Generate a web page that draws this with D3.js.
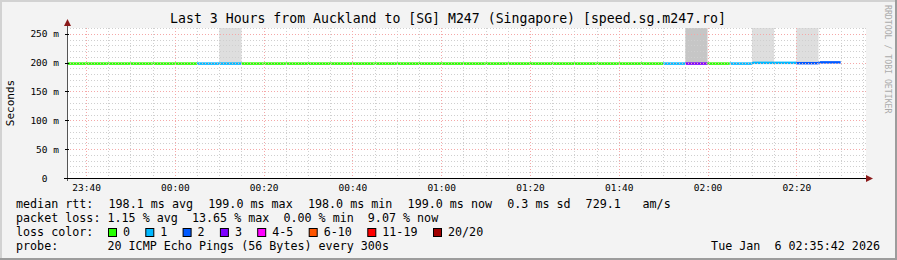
<!DOCTYPE html>
<html>
<head>
<meta charset="utf-8">
<script src="https://d3js.org/d3.v7.min.js"></script>
<style>
  body { margin: 0; background: #fff; }
  text { font-family: "DejaVu Sans Mono", monospace; white-space: pre; }
</style>
</head>
<body>
<div id="chart"></div>
<script>
// 5 minute steps (start time), median rtt (ms) and lost pings out of 20
var stepStarts = ["23:35","23:40","23:45","23:50","23:55",
  "00:00","00:05","00:10","00:15","00:20","00:25","00:30","00:35","00:40","00:45","00:50","00:55",
  "01:00","01:05","01:10","01:15","01:20","01:25","01:30","01:35","01:40","01:45","01:50","01:55",
  "02:00","02:05","02:10","02:15","02:20","02:25"];
var medians = [198.3,198.3,198.3,198.3,198.3,
  198.3,198.3,198.3,198.3,198.3,198.3,198.3,198.3,198.3,198.3,198.3,198.3,
  198.3,198.3,198.3,198.3,198.3,198.3,198.3,198.3,198.3,198.3,198.3,198.3,
  198.3,198.3,199.6,199.6,199.0,200.4];
var losses = [0,0,0,0,0,
  0,1,1,0,0,0,0,0,0,0,0,0,
  0,0,0,0,0,0,0,0,0,0,1,3,
  0,1,1,1,2,2];
// steps with smoke going off the top of the graph, and how dense it is
var smokeSteps = ["00:10","01:55","02:10","02:20"];
var smokeLevel = [1, 2, 1, 1];

var lossLabels = ["0","1","2","3","4-5","6-10","11-19","20/20"];
var lossMax    = [0,1,2,3,5,10,19,20];
var lossColors = ["#26ff00","#00b8ff","#0059ff","#7e00ff","#ff00ff","#ff5500","#ff0000","#a00000"];

var yTicks = [0,50,100,150,200,250];
var yTickLabels = ["0  ","50 m","100 m","150 m","200 m","250 m"];

var title = "Last 3 Hours from Auckland to [SG] M247 (Singapore) [speed.sg.m247.ro]";
var rttLegend = ["median rtt:", "198.1 ms avg", "199.0 ms max", "198.0 ms min", "199.0 ms now", "0.3 ms sd", "729.1", "am/s"];
var lossLegend = "packet loss: 1.15 % avg  13.65 % max  0.00 % min  9.07 % now";
var probeLegend = "probe:       20 ICMP Echo Pings (56 Bytes) every 300s";
var stamp = "Tue Jan  6 02:35:42 2026";

var W = 897, H = 260;
var pL = 67, pR = 866, pT = 28, pB = 178;

function parseT(s) {
  var h = +s.slice(0,2), m = +s.slice(3,5);
  return h >= 12 ? new Date(2026,0,5,h,m) : new Date(2026,0,6,h,m);
}
function lossColor(l) {
  for (var i = 0; i < lossMax.length; i++) if (l <= lossMax[i]) return lossColors[i];
  return lossColors[lossColors.length-1];
}

var t0 = new Date(2026,0,5,23,35,42), t1 = new Date(2026,0,6,2,35,42);
var x = d3.scaleTime().domain([t0, t1]).range([pL, pR]);
var y = d3.scaleLinear().domain([0, 260]).range([pB, pT]);

var svg = d3.select("#chart").append("svg")
  .attr("width", W).attr("height", H);

// frame
svg.append("rect").attr("width", W).attr("height", H).attr("fill", "#f3f3f3");
svg.append("rect").attr("x",0).attr("y",0).attr("width",W).attr("height",2).attr("fill","#d2d2d2");
svg.append("rect").attr("x",0).attr("y",0).attr("width",2).attr("height",H).attr("fill","#d2d2d2");
svg.append("rect").attr("x",0).attr("y",H-2).attr("width",W).attr("height",2).attr("fill","#9c9c9c");
svg.append("rect").attr("x",W-2).attr("y",0).attr("width",2).attr("height",H).attr("fill","#9c9c9c");

// plot area
svg.append("rect").attr("x", pL).attr("y", pT)
  .attr("width", pR-pL).attr("height", pB-pT).attr("fill", "#fff");

svg.append("clipPath").attr("id","plot").append("rect")
  .attr("x", pL).attr("y", pT).attr("width", pR-pL).attr("height", pB-pT);

var data = stepStarts.map(function(s, i) {
  var a = parseT(s);
  return { a: a, b: new Date(+a + 300000), v: medians[i], loss: losses[i] };
});

// smoke
var g = svg.append("g").attr("clip-path", "url(#plot)");
smokeSteps.forEach(function(s, i) {
  var d = data[stepStarts.indexOf(s)];
  g.append("rect")
    .attr("x", x(d.a)).attr("width", x(d.b) - x(d.a))
    .attr("y", y(260)).attr("height", y(d.v) - y(260))
    .attr("fill", smokeLevel[i] > 1 ? "#c6c6c6" : "#dedede");
});

// grid
var minutes = d3.timeMinute.every(5).range(t0, t1);
var grid = svg.append("g");
grid.selectAll(".vminor").data(minutes.filter(function(d){ return d.getMinutes() % 20 != 0; }))
  .enter().append("line")
  .attr("x1", function(d){ return Math.round(x(d)) + 0.5; })
  .attr("x2", function(d){ return Math.round(x(d)) + 0.5; })
  .attr("y1", pT).attr("y2", pB)
  .attr("stroke", "#cfcfcf").attr("stroke-dasharray", "1,2");
grid.selectAll(".hminor").data(d3.range(10, 261, 10).filter(function(v){ return v % 50 != 0; }))
  .enter().append("line")
  .attr("x1", pL).attr("x2", pR)
  .attr("y1", function(d){ return Math.round(y(d)) + 0.5; })
  .attr("y2", function(d){ return Math.round(y(d)) + 0.5; })
  .attr("stroke", "#cfcfcf").attr("stroke-dasharray", "1,2");
grid.selectAll(".vmajor").data(minutes.filter(function(d){ return d.getMinutes() % 20 == 0; }))
  .enter().append("line")
  .attr("x1", function(d){ return Math.round(x(d)) + 0.5; })
  .attr("x2", function(d){ return Math.round(x(d)) + 0.5; })
  .attr("y1", pT).attr("y2", pB)
  .attr("stroke", "#f5a8a8").attr("stroke-dasharray", "1,2");
grid.selectAll(".hmajor").data(yTicks.filter(function(v){ return v > 0; }))
  .enter().append("line")
  .attr("x1", pL).attr("x2", pR)
  .attr("y1", function(d){ return Math.round(y(d)) + 0.5; })
  .attr("y2", function(d){ return Math.round(y(d)) + 0.5; })
  .attr("stroke", "#f5a8a8").attr("stroke-dasharray", "1,2");

// median line, one colored step per 5 minutes
g.selectAll(".med").data(data).enter().append("line")
  .attr("x1", function(d){ return x(d.a); })
  .attr("x2", function(d){ return x(d.b); })
  .attr("y1", function(d){ return y(d.v); })
  .attr("y2", function(d){ return y(d.v); })
  .attr("stroke", function(d){ return lossColor(d.loss); })
  .attr("stroke-width", 2.5);

// axes
svg.append("line").attr("x1", pL - 3).attr("x2", pR + 2)
  .attr("y1", pB + 0.5).attr("y2", pB + 0.5).attr("stroke", "#000");
svg.append("line").attr("x1", pL + 0.5).attr("x2", pL + 0.5)
  .attr("y1", pB + 3).attr("y2", pT - 4).attr("stroke", "#555");
svg.append("path").attr("d", "M" + (pR+7) + "," + (pB+0.5) + "l-7,-3.5v7z").attr("fill", "#8b1a1a");
svg.append("path").attr("d", "M" + (pL+0.5) + "," + (pT-9) + "l-3.5,7h7z").attr("fill", "#8b1a1a");

// y tick labels
svg.selectAll(".ylab").data(yTicks).enter().append("text")
  .attr("x", 59).attr("y", function(d){ return y(d) + 3.5; })
  .attr("text-anchor", "end").attr("font-size", "9.5px").attr("fill", "#000")
  .text(function(d, i){ return yTickLabels[i]; });
svg.selectAll(".ytick").data(yTicks).enter().append("line")
  .attr("x1", pL - 2).attr("x2", pL + 2)
  .attr("y1", function(d){ return Math.round(y(d)) + 0.5; })
  .attr("y2", function(d){ return Math.round(y(d)) + 0.5; })
  .attr("stroke", "#000");

// x tick labels
var xAxis = d3.axisBottom(x).ticks(d3.timeMinute.every(20))
  .tickFormat(d3.timeFormat("%H:%M")).tickSize(0).tickPadding(0);
var xa = svg.append("g").attr("transform", "translate(0," + pB + ")").call(xAxis);
xa.select(".domain").remove();
xa.selectAll("text").attr("y", 13).attr("dy", null)
  .attr("font-family", "DejaVu Sans Mono").attr("font-size", "9.5px").attr("fill", "#000");

// titles
svg.append("text").attr("x", 448).attr("y", 23).attr("text-anchor", "middle")
  .attr("font-size", "13.2px").attr("fill", "#000").text(title);
svg.append("text").attr("transform", "translate(14," + ((pT+pB)/2) + ") rotate(-90)")
  .attr("text-anchor", "middle").attr("font-size", "11px").attr("fill", "#000").text("Seconds");
svg.append("text").attr("transform", "translate(885,5) rotate(90)")
  .attr("font-size", "8.2px").attr("fill", "#ababab").text("RRDTOOL / TOBI OETIKER");

// legend
var rttCols = [0, 13, 27, 41, 55, 69, 80, 88];
rttLegend.forEach(function(s, i) {
  svg.append("text").attr("x", 16 + rttCols[i] * 7.12).attr("y", 208)
    .attr("font-size", "11.7px").attr("fill", "#000").text(s);
});
svg.append("text").attr("x", 16).attr("y", 222).attr("font-size", "11.7px").attr("fill", "#000").text(lossLegend);
svg.append("text").attr("x", 16).attr("y", 236).attr("font-size", "11.7px").attr("fill", "#000").text("loss color:");
var bx = 108;
lossLabels.forEach(function(l, i) {
  svg.append("rect").attr("x", bx + 0.5).attr("y", 228.5).attr("width", 8).attr("height", 8)
    .attr("fill", lossColors[i]).attr("stroke", "#000");
  svg.append("text").attr("x", bx + 15).attr("y", 236).attr("font-size", "11.7px").attr("fill", "#000").text(l);
  bx += 16 + (l.length + 2) * 7.1;
});
svg.append("text").attr("x", 16).attr("y", 250).attr("font-size", "11.7px").attr("fill", "#000").text(probeLegend);
svg.append("text").attr("x", 880).attr("y", 250).attr("text-anchor", "end")
  .attr("font-size", "11.7px").attr("fill", "#000").text(stamp);
</script>
</body>
</html>
